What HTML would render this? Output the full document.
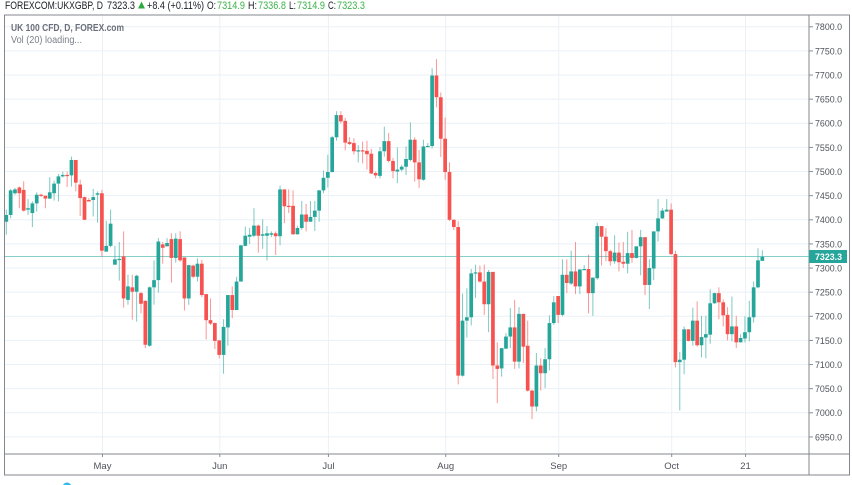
<!DOCTYPE html>
<html lang="en">
<head>
<meta charset="utf-8">
<title>UK 100 CFD daily candlestick chart</title>
<style>
html,body{margin:0;padding:0;background:#fff;width:852px;height:485px;overflow:hidden}
svg{display:block;font-family:"Liberation Sans",Arial,sans-serif;filter:blur(0.35px)}
</style>
</head>
<body>
<svg id="chart" xmlns="http://www.w3.org/2000/svg" width="852" height="485" viewBox="0 0 852 485">
  <g id="grid"></g>
  <line id="lastLine" x1="5" x2="809" stroke="#86d0c9" stroke-width="1"/>
  <g id="candles"></g>
  <g id="frame" fill="none" stroke="#85878f" stroke-width="1">
    <rect x="4.5" y="15" width="845" height="460"/>
    <line x1="809" y1="15" x2="809" y2="475"/>
    <line x1="5" y1="454" x2="849" y2="454"/>
  </g>
  <g id="yAxis"></g>
  <g id="xAxis"></g>
  <rect id="lastTag" x="809" width="38" height="13" fill="#26a69a"/>
  <text id="lastLabel" x="815" font-size="9.5" font-weight="bold" fill="#fff" textLength="27" lengthAdjust="spacingAndGlyphs"></text>

  <g font-size="11" fill="#1a1d26">
    <text x="5" y="9" textLength="98" lengthAdjust="spacingAndGlyphs">FOREXCOM:UKXGBP, D</text>
    <text x="107" y="9" textLength="28" lengthAdjust="spacingAndGlyphs">7323.3</text>
    <polygon points="138,8.5 145,8.5 141.5,1.5" fill="#2eaa3f"/>
    <text x="147" y="9" textLength="57" lengthAdjust="spacingAndGlyphs">+8.4 (+0.11%)</text>
    <text x="207" y="9" textLength="9" lengthAdjust="spacingAndGlyphs">O:</text>
    <text x="217" y="9" fill="#3cb34a" textLength="28" lengthAdjust="spacingAndGlyphs">7314.9</text>
    <text x="248" y="9" textLength="9" lengthAdjust="spacingAndGlyphs">H:</text>
    <text x="258" y="9" fill="#3cb34a" textLength="28" lengthAdjust="spacingAndGlyphs">7336.8</text>
    <text x="289" y="9" textLength="7" lengthAdjust="spacingAndGlyphs">L:</text>
    <text x="297" y="9" fill="#3cb34a" textLength="28" lengthAdjust="spacingAndGlyphs">7314.9</text>
    <text x="328" y="9" textLength="8" lengthAdjust="spacingAndGlyphs">C:</text>
    <text x="337" y="9" fill="#3cb34a" textLength="28" lengthAdjust="spacingAndGlyphs">7323.3</text>
  </g>
  <text x="11" y="31" font-size="10.5" font-weight="bold" fill="#6b6f7a" textLength="113" lengthAdjust="spacingAndGlyphs">UK 100 CFD, D, FOREX.com</text>
  <text x="11" y="43" font-size="10.5" fill="#7b7f8a" textLength="71" lengthAdjust="spacingAndGlyphs">Vol (20) loading...</text>
  <circle cx="67" cy="487" r="4.5" fill="#35b6ee"/>
</svg>
<script>
const opens = [7396,7410,7455,7467,7462,7421,7414,7434,7452,7450,
7444,7455,7475,7490,7493,7492,7524,7473,7447,7441,
7441,7452,7455,7334,7346,7307,7318,7324,7234,7260,
7251,7248,7232,7139,7260,7275,7349,7345,7360,7321,
7360,7322,7237,7305,7282,7309,7246,7192,7186,7150,
7120,7177,7244,7213,7272,7346,7365,7367,7388,7367,
7367,7369,7372,7366,7463,7429,7429,7370,7383,7411,
7396,7406,7419,7461,7487,7499,7571,7617,7605,7561,
7559,7542,7544,7543,7537,7497,7491,7542,7563,7522,
7500,7504,7510,7524,7566,7519,7483,7551,7553,7699,
7654,7568,7499,7400,7385,7077,7191,7198,7289,7291,
7272,7225,7292,7098,7092,7133,7158,7177,7106,7205,
7139,7046,7013,7098,7082,7111,7186,7242,7203,7286,
7268,7293,7262,7296,7298,7248,7279,7387,7365,7335,
7314,7332,7313,7309,7331,7321,7345,7364,7265,7299,
7376,7403,7417,7421,7329,7105,7110,7173,7149,7191,
7140,7156,7162,7227,7248,7229,7203,7163,7179,7146,
7154,7167,7198,7260,7314.9];
const highs = [7421,7464,7466,7469,7480,7443,7438,7457,7454,7450,
7488,7481,7495,7500,7500,7531,7524,7483,7448,7445,
7464,7459,7462,7398,7421,7346,7354,7376,7286,7286,
7286,7251,7233,7262,7316,7362,7354,7362,7372,7372,
7376,7322,7307,7307,7320,7317,7246,7237,7187,7151,
7194,7244,7262,7282,7348,7386,7383,7424,7390,7401,
7387,7376,7376,7471,7463,7463,7461,7388,7439,7433,
7439,7439,7462,7502,7535,7574,7625,7625,7611,7571,
7569,7555,7562,7564,7547,7500,7551,7593,7580,7528,
7550,7514,7552,7602,7571,7545,7566,7559,7714,7733,
7664,7612,7519,7401,7397,7247,7258,7298,7307,7305,
7307,7296,7292,7146,7134,7165,7217,7234,7219,7205,
7191,7048,7124,7113,7134,7202,7242,7242,7318,7318,
7336,7354,7298,7306,7328,7281,7394,7387,7383,7338,
7368,7353,7354,7375,7379,7345,7379,7364,7318,7376,
7443,7424,7443,7434,7336,7126,7179,7173,7218,7231,
7201,7201,7256,7249,7260,7235,7219,7241,7201,7163,
7200,7232,7272,7341,7336.8];
const lows = [7369,7403,7452,7424,7417,7410,7385,7417,7447,7424,
7443,7440,7438,7488,7468,7469,7459,7408,7400,7438,
7407,7394,7323,7334,7343,7307,7274,7218,7224,7193,
7189,7206,7134,7137,7224,7249,7309,7345,7270,7311,
7313,7212,7224,7279,7272,7240,7152,7182,7132,7113,
7081,7139,7196,7213,7272,7345,7350,7364,7332,7340,
7316,7364,7327,7347,7393,7414,7369,7369,7379,7376,
7396,7377,7396,7455,7467,7498,7564,7600,7544,7555,
7535,7519,7517,7504,7495,7486,7486,7531,7519,7486,
7476,7500,7493,7521,7479,7466,7481,7551,7548,7633,
7530,7483,7398,7379,7059,7075,7156,7181,7238,7270,
7203,7167,7070,7020,7075,7132,7134,7091,7092,7103,
7044,6987,7003,7046,7051,7088,7182,7186,7200,7248,
7265,7246,7246,7296,7206,7201,7276,7305,7314,7305,
7309,7293,7300,7289,7311,7320,7285,7244,7215,7275,
7355,7402,7417,7327,7094,7005,7080,7148,7139,7137,
7115,7113,7143,7226,7194,7179,7150,7148,7134,7146,
7146,7148,7187,7258,7314.9];
const closes = [7410,7461,7463,7455,7419,7424,7434,7452,7450,7444,
7457,7475,7490,7493,7492,7524,7477,7445,7400,7438,
7447,7455,7336,7346,7392,7318,7319,7237,7262,7251,
7284,7226,7141,7260,7275,7355,7342,7352,7321,7361,
7316,7237,7306,7282,7309,7244,7192,7185,7149,7120,
7178,7244,7213,7272,7347,7367,7369,7388,7367,7370,
7372,7372,7366,7463,7428,7428,7370,7383,7411,7396,
7406,7419,7461,7487,7499,7571,7617,7604,7560,7557,
7542,7544,7542,7536,7496,7492,7542,7563,7522,7501,
7504,7510,7526,7566,7519,7484,7552,7553,7699,7654,
7568,7499,7400,7385,7077,7191,7198,7289,7291,7272,
7225,7292,7098,7091,7134,7158,7177,7106,7205,7137,
7046,7013,7098,7082,7111,7186,7229,7203,7286,7269,
7293,7262,7297,7298,7248,7280,7387,7365,7335,7314,
7332,7312,7309,7331,7321,7345,7364,7265,7300,7376,
7403,7419,7421,7329,7105,7110,7173,7149,7191,7140,
7157,7163,7227,7248,7229,7202,7163,7179,7146,7155,
7167,7198,7260,7316,7323.3];
const priceTicks = [7800,7750,7700,7650,7600,7550,7500,7450,7400,7350,7300,7250,7200,7150,7100,7050,7000,6950];
const timeLabels = ['May','Jun','Jul','Aug','Sep','Oct','21'];
const timeBars = [22,49,74,101,127,153,170];
const lastPrice = 7323.3;

const NS = 'http://www.w3.org/2000/svg';
function xScale(i){ return 6.3 + i * 4.345; }
function yScale(v){ return 26.8 + (7800 - v) * 0.4825; }
function make(tag, parent, attrs){
  const el = document.createElementNS(NS, tag);
  for (const k in attrs) el.setAttribute(k, attrs[k]);
  parent.appendChild(el);
  return el;
}
const grid = document.getElementById('grid');
const yAxis = document.getElementById('yAxis');
const xAxis = document.getElementById('xAxis');
const candles = document.getElementById('candles');

priceTicks.forEach(function(p){
  const y = yScale(p);
  const g = make('line', grid, {x1:5, x2:809, y1:y, y2:y, stroke:'#eaf1f6', 'stroke-width':1});
  
  
  const t = make('line', yAxis, {x1:809, x2:813, y1:y, y2:y, stroke:'#8b8e99', 'stroke-width':1});
  
  
  const l = make('text', yAxis, {x:815, y:y + 3.4, 'font-size':9.5, fill:'#4f525c', textLength:27, lengthAdjust:'spacingAndGlyphs'});
  
  
  l.textContent = p.toFixed(1);
});

timeLabels.forEach(function(label, k){
  const x = xScale(timeBars[k]) + 0.6;
  const g = make('line', grid, {x1:x, x2:x, y1:15, y2:454, stroke:'#eaf1f6', 'stroke-width':1});
  
  
  const t = make('line', xAxis, {x1:x, x2:x, y1:454, y2:457, stroke:'#8b8e99', 'stroke-width':1});
  
  
  const l = make('text', xAxis, {x:x, y:469, 'font-size':9.5, fill:'#4f525c', 'text-anchor':'middle'});
  
  
  l.textContent = label;
});

opens.forEach(function(o, i){
  const c = closes[i];
  const up = c >= o;
  const color = up ? '#26a69a' : '#f6524f';
  const x = xScale(i);
  const top = yScale(Math.max(o, c));
  const bot = yScale(Math.min(o, c));
  const w = make('line', candles, {x1:x, x2:x, y1:yScale(highs[i]), y2:yScale(lows[i]), stroke:color, 'stroke-width':1, opacity:0.6});
  
  
  const b = make('rect', candles, {x:x - 1.85, y:top, width:3.7, height:Math.max(bot - top, 1.2), fill:color});
  
  
});

const ly = yScale(lastPrice);
const lastLine = document.getElementById('lastLine');
lastLine.setAttribute('y1', Math.floor(ly) + 0.5);
lastLine.setAttribute('y2', Math.floor(ly) + 0.5);
document.getElementById('lastTag').setAttribute('y', ly - 6.8);
const lastLabel = document.getElementById('lastLabel');
lastLabel.setAttribute('y', ly + 3.2);
lastLabel.textContent = lastPrice.toFixed(1);
</script>
</body>
</html>
